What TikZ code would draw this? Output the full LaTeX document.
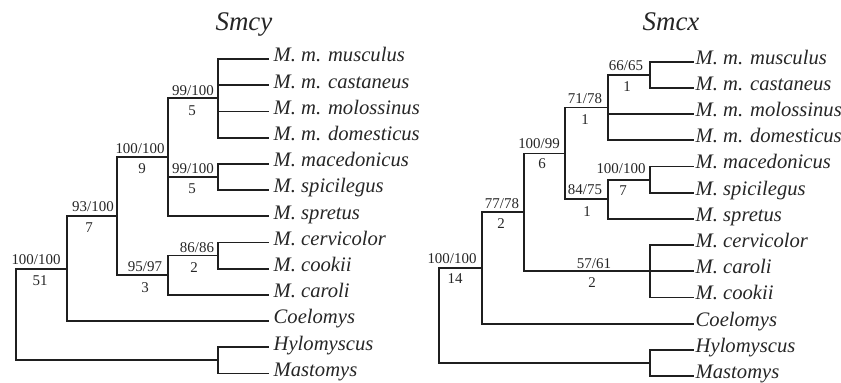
\documentclass[tikz,border=0pt]{standalone}
\usepackage{fontspec}
\setmainfont{Liberation Serif}
\begin{document}
\begin{tikzpicture}[x=1bp,y=-1bp,
  br/.style={line width=1.8bp, draw=black!88, line cap=rect},
  leaf/.style={anchor=base west, inner sep=0pt, text=black!85, font=\fontsize{20.7}{24}\selectfont\itshape},
  sup/.style={anchor=base, inner sep=0pt, text=black!85, font=\fontsize{15}{18}\selectfont},
  ttl/.style={anchor=base, inner sep=0pt, text=black!85, font=\fontsize{27}{32}\selectfont\itshape}]
\useasboundingbox (0,0) rectangle (841,382);

% ---------------- Left tree: Smcy ----------------
\node[ttl] (t1) at (244,30) {Smcy};
\foreach \nm/\lab/\yy in {l0/M. m. musculus/59, l1/M. m. castaneus/85.2, l2/M. m. molossinus/111.4,
  l3/M. m. domesticus/137.6, l4/M. macedonicus/163.8, l5/M. spicilegus/190, l6/M. spretus/216.2,
  l7/M. cervicolor/242.4, l8/M. cookii/268.6, l9/M. caroli/294.8, l10/Coelomys/321,
  l11/Hylomyscus/347.2, l12/Mastomys/373.4}{
  \coordinate (\nm) at (268,\yy);
  \node[leaf] (\nm t) at (273.5,\yy+2.8) {\lab};
}
\coordinate (A) at (218,98.3);
\coordinate (B) at (218,176.9);
\coordinate (C) at (168,157.25);
\coordinate (D) at (218,255.5);
\coordinate (E) at (168,275.15);
\coordinate (F) at (117,216.2);
\coordinate (G) at (67,268.6);
\coordinate (H) at (218,360.3);
\coordinate (R) at (16,314.45);

\draw[br] (A) |- (l0); \draw[br] (A) |- (l1); \draw[br] (A) |- (l2); \draw[br] (A) |- (l3);
\draw[br] (B) |- (l4); \draw[br] (B) |- (l5);
\draw[br] (C) |- (A); \draw[br] (C) |- (B); \draw[br] (C) |- (l6);
\draw[br] (D) |- (l7); \draw[br] (D) |- (l8);
\draw[br] (E) |- (D); \draw[br] (E) |- (l9);
\draw[br] (F) |- (C); \draw[br] (F) |- (E);
\draw[br] (G) |- (F); \draw[br] (G) |- (l10);
\draw[br] (H) |- (l11); \draw[br] (H) |- (l12);
\draw[br] (R) |- (G); \draw[br] (R) |- (H);

\node[sup] (sA) at (193,95) {99/100};  \node[sup] (nA) at (192,115) {5};
\node[sup] (sC) at (140,153) {100/100}; \node[sup] (nC) at (142,173) {9};
\node[sup] (sB) at (193,173) {99/100}; \node[sup] (nB) at (192,193) {5};
\node[sup] (sF) at (93,211) {93/100};  \node[sup] (nF) at (89,232) {7};
\node[sup] (sG) at (36,264) {100/100}; \node[sup] (nG) at (40,285) {51};
\node[sup] (sE) at (145,271) {95/97};  \node[sup] (nE) at (145,292) {3};
\node[sup] (sD) at (197,252) {86/86};  \node[sup] (nD) at (194,272) {2};

% ---------------- Right tree: Smcx ----------------
\node[ttl] (t2) at (671,30) {Smcx};
\foreach \nm/\lab/\yy in {r0/M. m. musculus/61.7, r1/M. m. castaneus/87.9, r2/M. m. molossinus/114.1,
  r3/M. m. domesticus/140.3, r4/M. macedonicus/166.5, r5/M. spicilegus/192.7, r6/M. spretus/218.9,
  r7/M. cervicolor/245.1, r8/M. caroli/271.3, r9/M. cookii/297.5, r10/Coelomys/323.7,
  r11/Hylomyscus/349.9, r12/Mastomys/376.1}{
  \coordinate (\nm) at (693,\yy);
  \node[leaf] (\nm t) at (695.5,\yy+2.4) {\lab};
}
\coordinate (a) at (650,74.8);
\coordinate (b) at (608,107.55);
\coordinate (c) at (650,179.6);
\coordinate (d) at (608,199.25);
\coordinate (e) at (565,153.4);
\coordinate (f) at (650,271.3);
\coordinate (g) at (524.3,212.35);
\coordinate (h) at (482,268.0);
\coordinate (k) at (650,363);
\coordinate (r) at (439.3,315.5);

\draw[br] (a) |- (r0); \draw[br] (a) |- (r1);
\draw[br] (b) |- (a); \draw[br] (b) |- (r2); \draw[br] (b) |- (r3);
\draw[br] (c) |- (r4); \draw[br] (c) |- (r5);
\draw[br] (d) |- (c); \draw[br] (d) |- (r6);
\draw[br] (e) |- (b); \draw[br] (e) |- (d);
\draw[br] (f) |- (r7); \draw[br] (f) |- (r8); \draw[br] (f) |- (r9);
\draw[br] (g) |- (e); \draw[br] (g) |- (f);
\draw[br] (h) |- (g); \draw[br] (h) |- (r10);
\draw[br] (k) |- (r11); \draw[br] (k) |- (r12);
\draw[br] (r) |- (h); \draw[br] (r) |- (k);

\node[sup] (sa) at (626,70) {66/65};   \node[sup] (na) at (627,91) {1};
\node[sup] (sb) at (585,103.5) {71/78}; \node[sup] (nb) at (585,124) {1};
\node[sup] (se) at (539,148) {100/99};  \node[sup] (ne) at (542,168) {6};
\node[sup] (sc) at (621,173) {100/100}; \node[sup] (nc) at (623,195) {7};
\node[sup] (sd) at (585,194) {84/75};   \node[sup] (nd) at (587,216) {1};
\node[sup] (sg) at (502,208) {77/78};   \node[sup] (ng) at (501,228) {2};
\node[sup] (sh) at (452,263) {100/100}; \node[sup] (nh) at (455,283) {14};
\node[sup] (sf) at (594,268) {57/61};   \node[sup] (nf) at (592,287) {2};
\end{tikzpicture}
\end{document}
